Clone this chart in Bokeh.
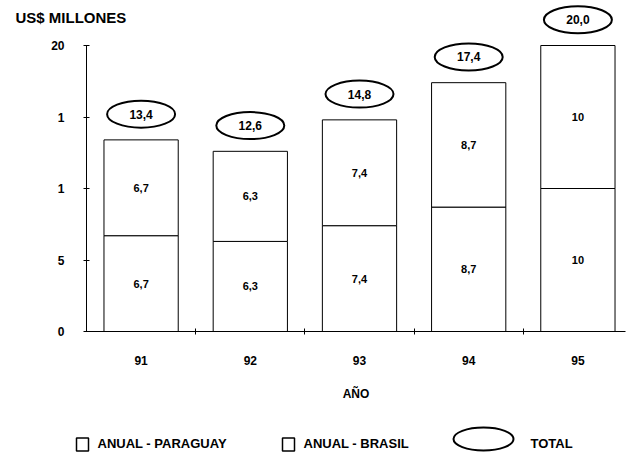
from bokeh.plotting import figure
from bokeh.models import Range1d, FixedTicker, ColumnDataSource, Label, LinearAxis
from bokeh.embed import file_html
from bokeh.resources import INLINE
from bokeh.core.properties import value

# ---- data ----
years = ["91", "92", "93", "94", "95"]
paraguay = [6.7, 6.3, 7.4, 8.7, 10.0]
brasil = [6.7, 6.3, 7.4, 8.7, 10.0]
paraguay_labels = ["6,7", "6,3", "7,4", "8,7", "10"]
brasil_labels = ["6,7", "6,3", "7,4", "8,7", "10"]
totals = [13.4, 12.6, 14.8, 17.4, 20.0]
total_labels = ["13,4", "12,6", "14,8", "17,4", "20,0"]
y_ticks = [0, 5, 10, 15, 20]
y_tick_labels = ["0", "5", "1", "1", "20"]
legend_labels = ["ANUAL - PARAGUAY", "ANUAL - BRASIL", "TOTAL"]
title_text = "US$ MILLONES"
x_title = "AÑO"

FONT = "Liberation Sans"

# ---- layout constants (pixels) ----
W, H = 630, 452
X1_PX, PX_PER_X = 140.6, 109.2      # x=1 position, pixels per category
Y0_PX, PX_PER_Y = 331.0, 14.3       # y=0 position, pixels per unit


def px2x(px):
    return 1 + (px - X1_PX) / PX_PER_X


def px2y(py):
    return (Y0_PX - py) / PX_PER_Y


x = list(range(1, len(years) + 1))
src = ColumnDataSource(dict(
    x=x, py=paraguay, br=brasil,
    py_mid=[v / 2 for v in paraguay],
    br_mid=[a + b / 2 for a, b in zip(paraguay, brasil)],
    py_lab=paraguay_labels, br_lab=brasil_labels,
    tot_y=[t + 1.8 for t in totals], tot_lab=total_labels,
))

p = figure(width=W, height=H,
           x_range=Range1d(px2x(0), px2x(W)), y_range=Range1d(px2y(H), px2y(0)),
           output_backend="svg", toolbar_location=None,
           x_axis_location=None, y_axis_location=None,
           min_border=0)

p.vbar_stack(["py", "br"], x="x", width=0.68, source=src,
             fill_color="white", line_color="black", line_width=1)

txt = dict(text_align="center", text_baseline="middle", text_font=value(FONT),
           text_font_style="bold", text_color="black")
p.text(x="x", y="py_mid", text="py_lab", source=src, text_font_size="11px", **txt)
p.text(x="x", y="br_mid", text="br_lab", source=src, text_font_size="11px", **txt)

p.ellipse(x="x", y="tot_y", width=68, height=27, width_units="screen",
          height_units="screen", source=src, fill_color="white",
          line_color="black", line_width=2)
p.text(x="x", y="tot_y", text="tot_lab", source=src, text_font_size="12px", **txt)

# y axis
yaxis = LinearAxis(fixed_location=0.5, ticker=FixedTicker(ticks=y_ticks),
                   bounds=(0, 20))
yaxis.major_label_overrides = {t: l for t, l in zip(y_ticks, y_tick_labels)}
yaxis.minor_tick_line_color = None
yaxis.major_tick_in = 3
yaxis.major_tick_out = 3
yaxis.major_label_standoff = 19
p.add_layout(yaxis, "left")

# x axis
xaxis = LinearAxis(fixed_location=0,
                   ticker=FixedTicker(ticks=x, minor_ticks=[v + 0.5 for v in x[:-1]]),
                   bounds=(0.5, px2x(625)))
xaxis.major_label_overrides = {t: l for t, l in zip(x, years)}
xaxis.major_tick_line_color = None
xaxis.minor_tick_line_color = "black"
xaxis.minor_tick_in = 3
xaxis.minor_tick_out = 3
xaxis.major_label_standoff = 18
xaxis.axis_label = x_title
xaxis.axis_label_standoff = 19
xaxis.axis_label_text_font = FONT
xaxis.axis_label_text_font_style = "bold"
xaxis.axis_label_text_font_size = "12px"
xaxis.axis_label_text_color = "black"
p.add_layout(xaxis, "below")

for ax in (xaxis, yaxis):
    ax.axis_line_color = "black"
    ax.major_label_text_font = FONT
    ax.major_label_text_font_style = "bold"
    ax.major_label_text_font_size = "12px"
    ax.major_label_text_color = "black"
yaxis.major_tick_line_color = "black"

p.grid.visible = False
p.outline_line_color = None

p.add_layout(Label(x=px2x(15), y=px2y(17), text=title_text, text_baseline="middle",
                   text_font=FONT, text_font_style="bold", text_font_size="15px",
                   text_color="black"))

# legend (drawn manually below the axis)
p.rect(x=[px2x(82), px2x(288)], y=[px2y(444), px2y(444)], width=12, height=13,
       width_units="screen", height_units="screen", fill_color="white",
       line_color="black", line_width=1.5)
p.ellipse(x=[px2x(483)], y=[px2y(438.5)], width=60, height=23,
          width_units="screen", height_units="screen", fill_color="white",
          line_color="black", line_width=2)
p.text(x=[px2x(97), px2x(303), px2x(530)], y=[px2y(443)] * 3, text=legend_labels,
       text_baseline="middle", text_font=value(FONT), text_font_style="bold",
       text_font_size="13px", text_color="black")

open("out.html", "w").write(file_html(p, INLINE))
